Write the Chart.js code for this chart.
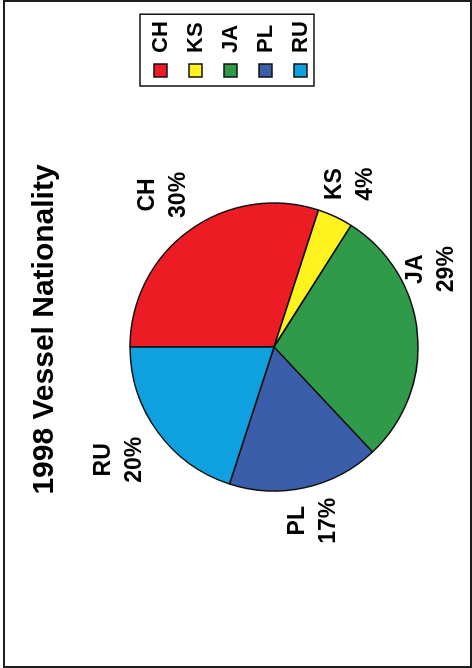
<!DOCTYPE html>
<html>
<head>
<meta charset="utf-8">
<title>1998 Vessel Nationality</title>
<script src="https://cdn.jsdelivr.net/npm/chart.js@4/dist/chart.umd.min.js"></script>
<style>
  html, body { margin: 0; padding: 0; background: #fff; }
  body { width: 472px; height: 668px; position: relative; overflow: hidden; }
  /* page frame */
  #frame {
    position: absolute; left: 3px; top: 0; width: 469px; height: 668px;
    box-sizing: border-box; border: 2px solid #1e1e1e; z-index: 2; pointer-events: none;
  }
  /* the chart is laid out landscape and turned to read bottom-up */
  #sheet {
    position: absolute; left: 0; top: 0; width: 668px; height: 472px;
    transform-origin: 0 0; transform: translate(0, 668px) rotate(-90deg);
  }
</style>
</head>
<body>
<div id="frame"></div>
<div id="sheet"><canvas id="pie" width="668" height="472"></canvas></div>
<script>
// share of vessels by flag, 1998
const nations = ['CH', 'KS', 'JA', 'PL', 'RU'];
const shares = [30, 4, 29, 17, 20];
const sliceColors = ['#ed1c24', '#fff21f', '#2e9a4a', '#3b5eab', '#0ea0df'];

const FONT = '"Liberation Sans", Arial, Helvetica, sans-serif';

// name + percent written outside each slice
const sliceLabels = {
  id: 'sliceLabels',
  afterDatasetsDraw(chart, args, opts){
    const meta = chart.getDatasetMeta(0);
    const total = shares.reduce((a, b) => a + b, 0);
    const ctx = chart.ctx;
    ctx.save();
    ctx.font = 'bold ' + opts.size + 'px ' + FONT;
    ctx.fillStyle = '#000';
    ctx.textAlign = 'center';
    ctx.textBaseline = 'middle';
    meta.data.forEach((arc, i) => {
      const p = arc.getProps(['x', 'y', 'startAngle', 'endAngle', 'outerRadius'], true);
      const a = (p.startAngle + p.endAngle) / 2 + (opts.turn[i] || 0) * Math.PI / 180;
      const r = p.outerRadius + opts.gap[i];
      const cx = p.x + Math.cos(a) * r;
      const cy = p.y + Math.sin(a) * r;
      ctx.fillText(nations[i], cx, cy - opts.lineGap / 2);
      ctx.fillText(Math.round(shares[i] / total * 100) + '%', cx, cy + opts.lineGap / 2);
    });
    ctx.restore();
  }
};

// legend only reserves a narrow strip in the layout (keeps the title centred
// where it is); widen its box afterwards so the labels aren't clipped
const legendWiden = {
  id: 'legendWiden',
  afterLayout(chart){
    const lg = chart.legend;
    if(!lg || !lg.legendHitBoxes || !lg.legendHitBoxes.length) return;
    const w = lg.options.labels.padding + Math.max(...lg.legendHitBoxes.map(b => b.width)) + 10;
    lg.width = Math.max(lg.width, w);
    lg.right = lg.left + lg.width;
  }
};

// thin box round the legend entries
const legendFrame = {
  id: 'legendFrame',
  afterDraw(chart, args, opts){
    const boxes = chart.legend && chart.legend.legendHitBoxes;
    if(!boxes || !boxes.length) return;
    const l = Math.min(...boxes.map(b => b.left)) - opts.left;
    const t = Math.min(...boxes.map(b => b.top)) - opts.top;
    const r = Math.max(...boxes.map(b => b.left + b.width)) + opts.right;
    const btm = Math.max(...boxes.map(b => b.top + b.height)) + opts.bottom;
    const ctx = chart.ctx;
    ctx.save();
    ctx.strokeStyle = '#111';
    ctx.lineWidth = 1.5;
    ctx.strokeRect(l, t, r - l, btm - t);
    ctx.restore();
  }
};

new Chart(document.getElementById('pie'), {
  type: 'pie',
  data: {
    labels: nations,
    datasets: [{
      data: shares,
      backgroundColor: sliceColors,
      borderColor: '#111',
      borderWidth: 1.5,
      radius: 144,
      clip: false
    }]
  },
  options: {
    responsive: false,
    animation: false,
    layout: { padding: { left: 64, right: 55, top: 0, bottom: 60.5 } },
    plugins: {
      title: {
        display: true,
        text: '1998 Vessel Nationality',
        color: '#000',
        font: { family: FONT, size: 30, weight: 'bold' },
        padding: { top: 26.5, bottom: 74 }
      },
      legend: {
        position: 'right',
        align: 'start',
        fullSize: false,
        maxWidth: 35,
        labels: {
          boxWidth: 13,
          boxHeight: 13,
          padding: 13,
          color: '#000',
          textAlign: 'left',
          font: { family: FONT, size: 22, weight: 'bold' }
        }
      },
      tooltip: { enabled: false },
      sliceLabels: {
        size: 23,
        lineGap: 31,
        gap: [44, 36, 31, 34, 48],
        turn: [0, 0, -21, 0, 0]
      },
      legendFrame: { left: 9, top: 9.5, right: 7, bottom: 2.5 }
    }
  },
  plugins: [sliceLabels, legendWiden, legendFrame]
});
</script>
</body>
</html>
